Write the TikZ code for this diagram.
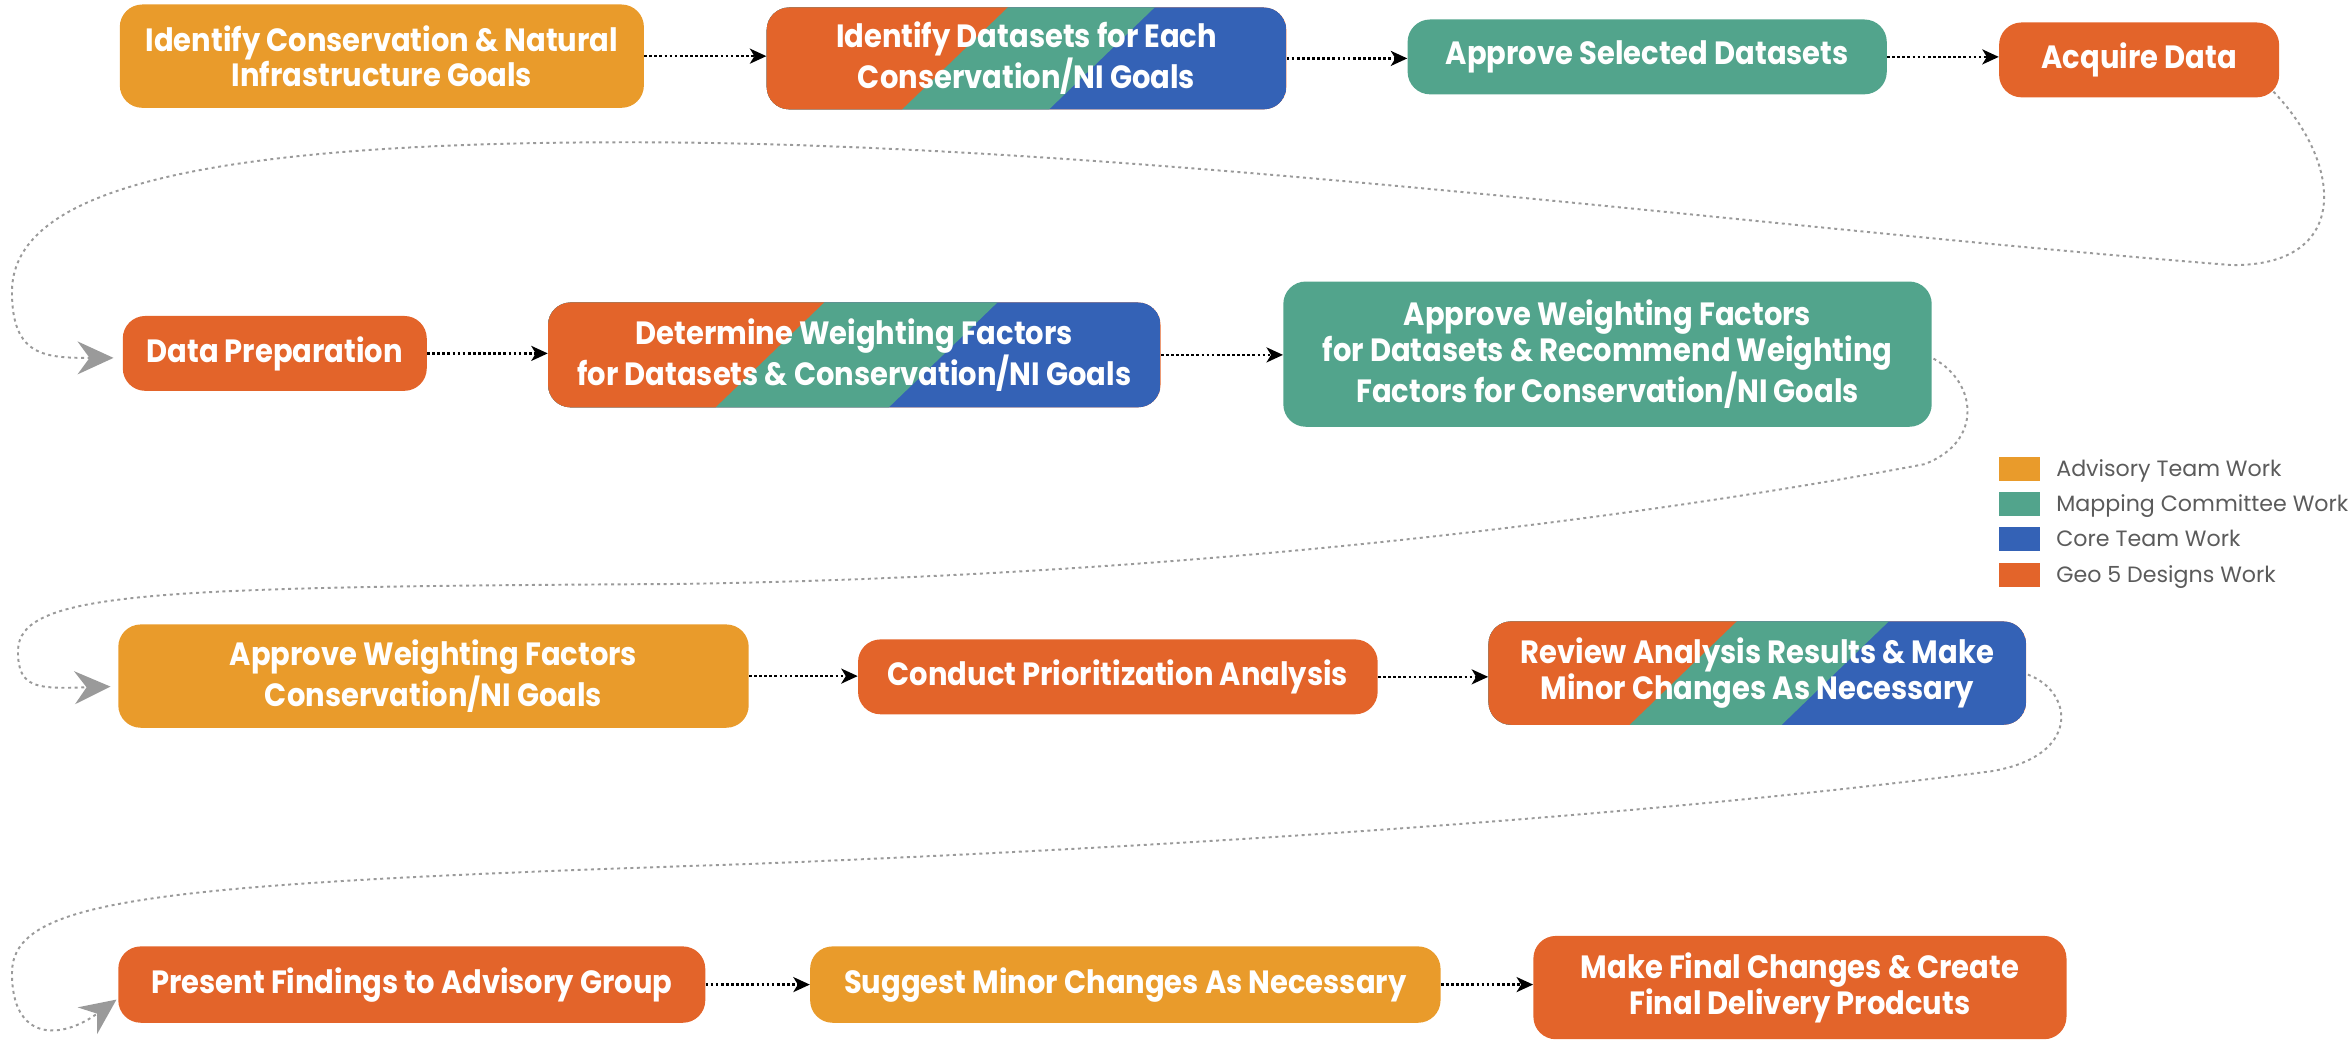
\documentclass[tikz,border=0pt]{standalone}
\usepackage{fontspec}
\setmainfont{Poppins}
\newfontfamily\taskfont{Poppins}[FakeStretch=0.9]
\usetikzlibrary{arrows.meta,calc}

\definecolor{advisory}{HTML}{E99B2B}
\definecolor{mapping}{HTML}{52A48C}
\definecolor{coreteam}{HTML}{3462B6}
\definecolor{geofive}{HTML}{E3642A}
\definecolor{loopgray}{HTML}{9A9A9A}
\definecolor{legendtext}{HTML}{5B5B5B}

\tikzset{
  task/.style={rounded corners=15pt, text=white, align=center, inner sep=0pt,
    font=\taskfont\bfseries\fontsize{21.5}{21.7}\selectfont},
  advisorytask/.style={task, fill=advisory},
  mappingtask/.style={task, fill=mapping},
  geotask/.style={task, fill=geofive},
  mixtask/.style={task, fill=geofive, path picture={
    \fill[coreteam] (path picture bounding box.south west) rectangle (path picture bounding box.north east);
    \fill[mapping] ($(path picture bounding box.west)!0.645!(path picture bounding box.east)+(44:90pt)$)
      -- ($(path picture bounding box.west)!0.645!(path picture bounding box.east)+(224:90pt)$)
      -- ++(-700pt,0pt) -- ++(0pt,140pt) -- cycle;
    \fill[geofive] ($(path picture bounding box.west)!0.362!(path picture bounding box.east)+(44:90pt)$)
      -- ($(path picture bounding box.west)!0.362!(path picture bounding box.east)+(224:90pt)$)
      -- ++(-700pt,0pt) -- ++(0pt,140pt) -- cycle;
  }},
  flow/.style={-{Stealth[length=11pt,width=10pt,inset=3pt]}, line width=1.7pt,
    dash pattern=on 1.8pt off 1.6pt},
  loop/.style={-{Stealth[length=24pt,width=22pt,inset=8pt]}, draw=loopgray,
    line width=1.3pt, dash pattern=on 2pt off 2.4pt},
  key/.style={minimum width=27pt, minimum height=16pt, inner sep=0pt},
  keytext/.style={anchor=base west, text=legendtext, inner sep=0pt,
    font=\fontsize{14.8}{16}\selectfont}
}

\begin{document}
\begin{tikzpicture}[x=1pt,y=-1pt]
  \useasboundingbox (0,0) rectangle (1568,696);

  % first row
  \node[advisorytask, minimum width=350pt, minimum height=69pt] (goals) at (255,37.5)
    {Identify Conservation \& Natural\\Infrastructure Goals};
  \node[mixtask, minimum width=347pt, minimum height=68pt] (datasets) at (685.5,39)
    {Identify Datasets for Each\\Conservation/NI Goals};
  \node[mappingtask, minimum width=320pt, minimum height=50pt] (approvesets) at (1100,38)
    {Approve Selected Datasets};
  \node[geotask, minimum width=187pt, minimum height=50pt] (acquire) at (1428.5,40)
    {Acquire Data};

  % second row
  \node[geotask, minimum width=203pt, minimum height=50pt] (prep) at (183.5,236)
    {Data Preparation};
  \node[mixtask, minimum width=409pt, minimum height=70pt] (weights) at (570.5,237)
    {Determine Weighting Factors\\for Datasets \& Conservation/NI Goals};
  \node[mappingtask, minimum width=433pt, minimum height=97pt] (approveweights) at (1073.5,236.5)
    {Approve Weighting Factors\\for Datasets \& Recommend Weighting\\Factors for Conservation/NI Goals};

  % third row
  \node[advisorytask, minimum width=421pt, minimum height=69pt] (approvegoals) at (289.5,451.5)
    {Approve Weighting Factors\\Conservation/NI Goals};
  \node[geotask, minimum width=347pt, minimum height=50pt] (analysis) at (746.5,452)
    {Conduct Prioritization Analysis};
  \node[mixtask, minimum width=359pt, minimum height=69pt] (review) at (1173.5,449.5)
    {Review Analysis Results \& Make\\Minor Changes As Necessary};

  % fourth row
  \node[geotask, minimum width=392pt, minimum height=51pt] (present) at (275,657.5)
    {Present Findings to Advisory Group};
  \node[advisorytask, minimum width=421pt, minimum height=51pt] (suggest) at (751.5,657.5)
    {Suggest Minor Changes As Necessary};
  \node[geotask, minimum width=356pt, minimum height=69pt] (final) at (1202,659.5)
    {Make Final Changes \& Create\\Final Delivery Prodcuts};

  % straight steps
  \draw[flow] (goals.east) -- (goals.east -| datasets.west);
  \draw[flow] (datasets.east) -- (datasets.east -| approvesets.west);
  \draw[flow] (approvesets.east) -- (approvesets.east -| acquire.west);
  \draw[flow] (prep.east) -- (prep.east -| weights.west);
  \draw[flow] (weights.east) -- (weights.east -| approveweights.west);
  \draw[flow] (approvegoals.east) -- (approvegoals.east -| analysis.west);
  \draw[flow] (analysis.east) -- (analysis.east -| review.west);
  \draw[flow] (present.east) -- (present.east -| suggest.west);
  \draw[flow] (suggest.east) -- (suggest.east -| final.west);

  % row to row
  \draw[loop] ([xshift=-4pt,yshift=4pt]acquire.south east)
    .. controls (1565,110) and (1570,178) .. (1490,177)
    .. controls (1150,150) and (750,95) .. (420,95)
    .. controls (120,95) and (8,130) .. (8,195)
    .. controls (8,238) and (30,239) .. ([xshift=-6pt,yshift=-3pt]prep.west);
  \draw[loop] ([xshift=1pt,yshift=-3pt]approveweights.east)
    .. controls (1320,255) and (1325,295) .. (1285,310)
    .. controls (1100,345) and (800,385) .. (450,390)
    .. controls (100,392) and (12,395) .. (12,435)
    .. controls (12,460) and (25,460) .. ([xshift=-5pt,yshift=-7pt]approvegoals.west);
  \draw[loop] ([xshift=1pt,yshift=-1pt]review.east)
    .. controls (1385,462) and (1390,505) .. (1330,515)
    .. controls (1100,545) and (800,565) .. (500,577)
    .. controls (100,590) and (8,600) .. (8,650)
    .. controls (8,695) and (40,695) .. ([xshift=-1pt,yshift=-10pt]present.west);

  % legend
  \node[key, fill=advisory] (keyadvisory) at (1348.5,313) {};
  \node[key, fill=mapping] (keymapping) at (1348.5,336.5) {};
  \node[key, fill=coreteam] (keycore) at (1348.5,360) {};
  \node[key, fill=geofive] (keygeo) at (1348.5,384) {};
  \node[keytext] at (1373,318) {Advisory Team Work};
  \node[keytext] at (1373,341.5) {Mapping Committee Work};
  \node[keytext] at (1373,365) {Core Team Work};
  \node[keytext] at (1373,389) {Geo 5 Designs Work};
\end{tikzpicture}
\end{document}
